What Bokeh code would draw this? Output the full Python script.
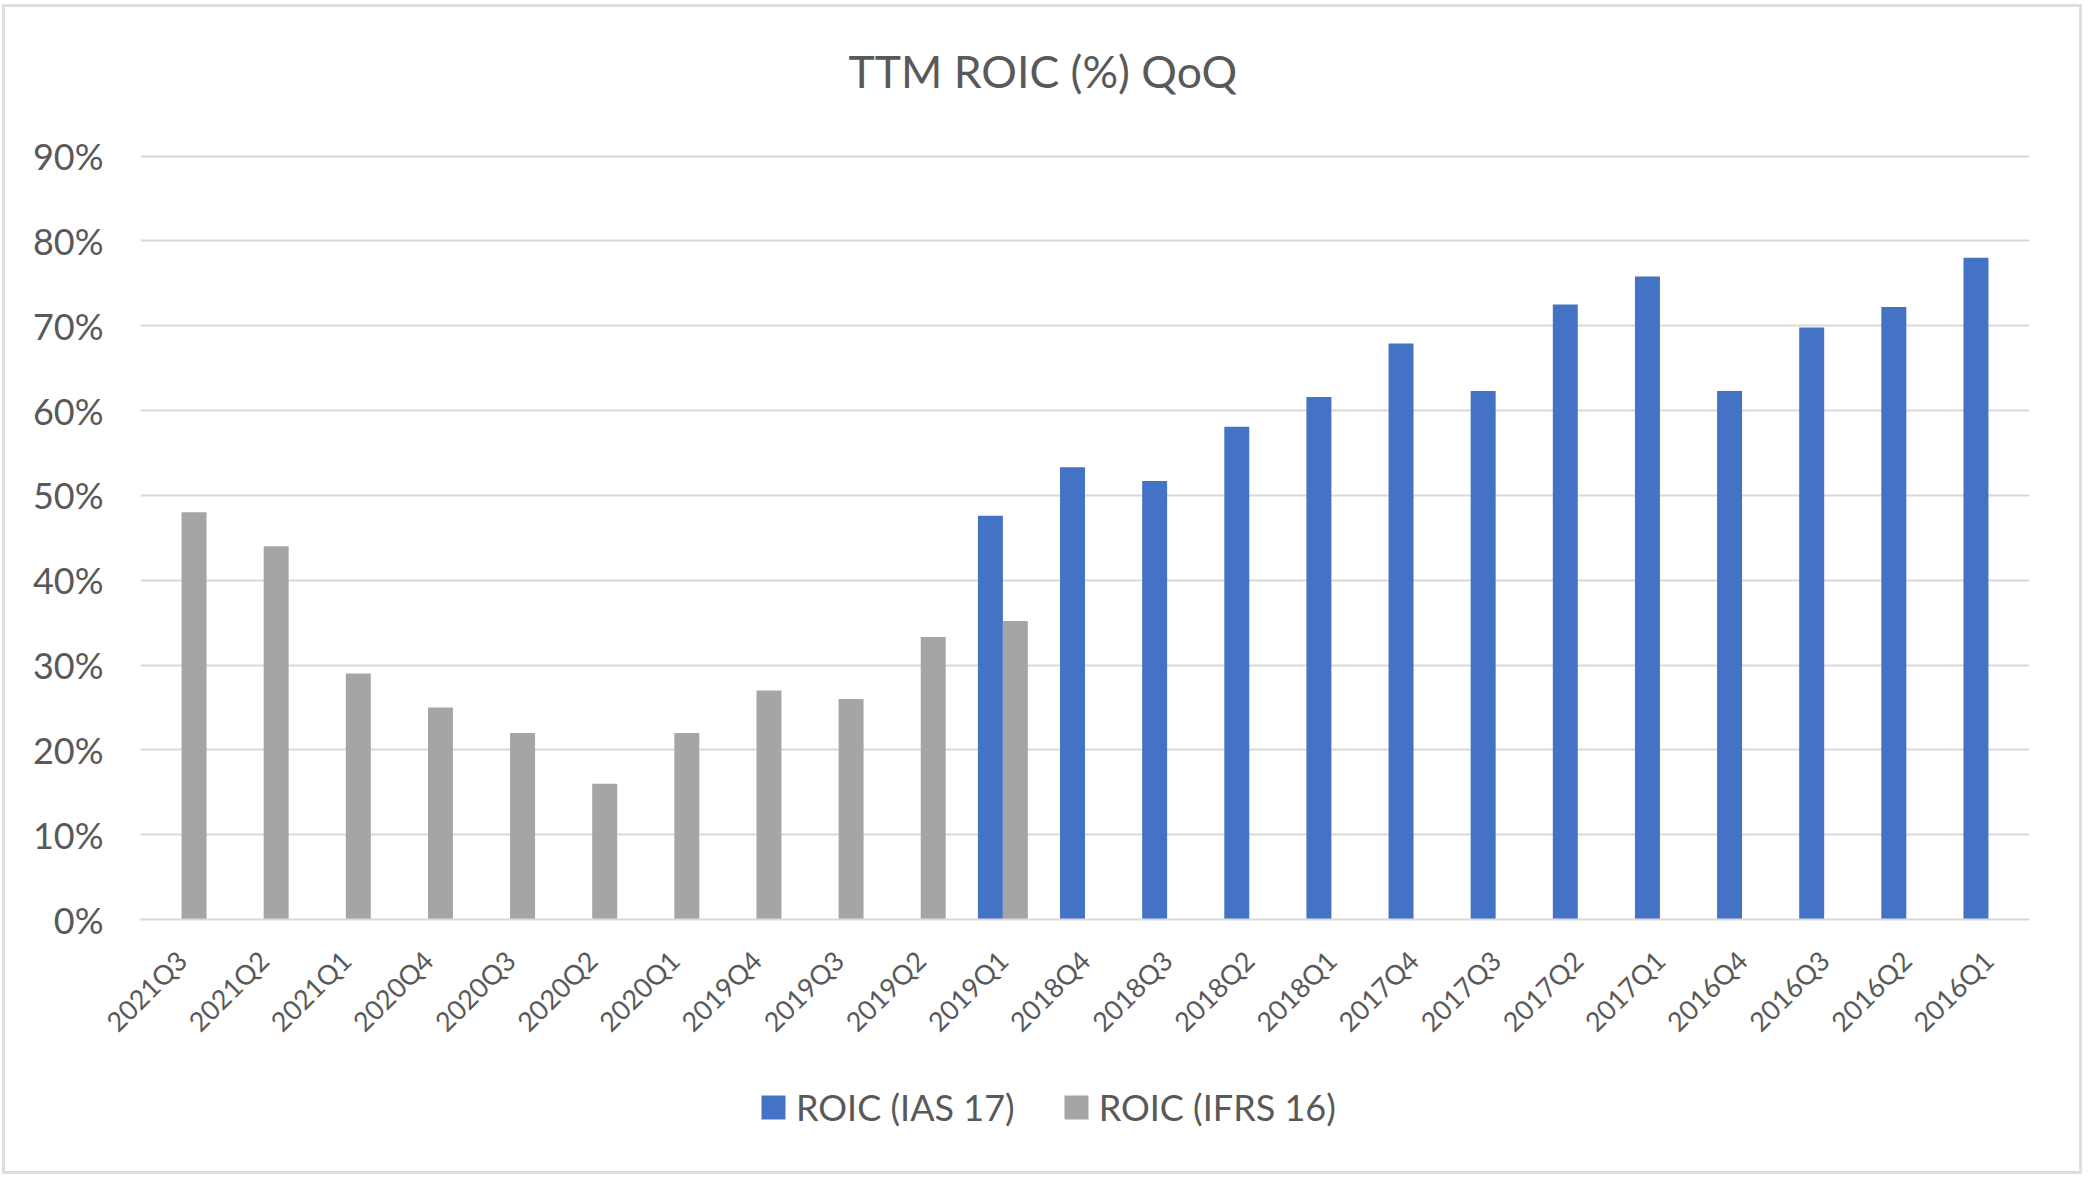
import math

from bokeh.embed import file_html
from bokeh.layouts import column
from bokeh.models import (ColumnDataSource, FactorRange, FixedTicker, Legend,
                          LegendItem, PrintfTickFormatter, Range1d)
from bokeh.plotting import figure
from bokeh.resources import INLINE
from bokeh.transform import dodge

# Quarters, newest first
quarters = ["2021Q3", "2021Q2", "2021Q1", "2020Q4", "2020Q3", "2020Q2",
            "2020Q1", "2019Q4", "2019Q3", "2019Q2", "2019Q1", "2018Q4",
            "2018Q3", "2018Q2", "2018Q1", "2017Q4", "2017Q3", "2017Q2",
            "2017Q1", "2016Q4", "2016Q3", "2016Q2", "2016Q1"]

# ROIC under IAS 17 (pre-IFRS 16 accounting), 2019Q1 back to 2016Q1
ias17_quarters = ["2019Q1", "2018Q4", "2018Q3", "2018Q2", "2018Q1", "2017Q4",
                  "2017Q3", "2017Q2", "2017Q1", "2016Q4", "2016Q3", "2016Q2",
                  "2016Q1"]
ias17_roic = [47.6, 53.3, 51.7, 58.1, 61.6, 67.9, 62.3, 72.5, 75.8, 62.3,
              69.8, 72.2, 78.0]

# ROIC under IFRS 16, 2021Q3 back to 2019Q1
ifrs16_quarters = ["2021Q3", "2021Q2", "2021Q1", "2020Q4", "2020Q3", "2020Q2",
                   "2020Q1", "2019Q4", "2019Q3", "2019Q2", "2019Q1"]
ifrs16_roic = [48.0, 44.0, 29.0, 25.0, 22.0, 16.0, 22.0, 27.0, 26.0, 33.3, 35.2]

y_ticks = [0, 10, 20, 30, 40, 50, 60, 70, 80, 90]

series_names = ["ROIC (IAS 17)", "ROIC (IFRS 16)"]
chart_title = "TTM ROIC (%) QoQ"

BLUE = "#4472C4"
GREY = "#A5A5A5"
TEXT = "#595959"
GRID = "#D9D9D9"
FONT = "Lato"
WIDTH = 2074

src_ias = ColumnDataSource(dict(q=ias17_quarters, v=ias17_roic))
src_ifrs = ColumnDataSource(dict(q=ifrs16_quarters, v=ifrs16_roic))
x_range = FactorRange(*quarters, range_padding=0)
bar_w = 0.304

# ---- title strip ----
tf = figure(width=WIDTH, height=124, x_axis_type=None, y_axis_type=None,
            output_backend="svg", toolbar_location=None, min_border=0,
            title=chart_title)
tf.outline_line_color = None
tf.border_fill_color = "white"
tf.title.text_font = FONT
tf.title.text_font_size = "44.5px"
tf.title.text_font_style = "normal"
tf.title.text_color = TEXT
tf.title.align = "left"
tf.title.offset = 708
tf.title.standoff = 70

# ---- main chart ----
p = figure(
    frame_width=1889, frame_height=766,
    x_range=x_range, y_range=Range1d(0, 90.3),
    output_backend="svg", toolbar_location=None,
    min_border_left=135, min_border_right=50,
    min_border_top=22, min_border_bottom=134,
)
p.outline_line_color = None
p.background_fill_color = "white"
p.border_fill_color = "white"

p.vbar(x=dodge("q", -bar_w / 2, range=x_range), top="v", width=bar_w,
       source=src_ias, fill_color=BLUE, line_color=None)
p.vbar(x=dodge("q", bar_w / 2, range=x_range), top="v", width=bar_w,
       source=src_ifrs, fill_color=GREY, line_color=None)

p.xgrid.grid_line_color = None
p.ygrid.grid_line_color = GRID
p.ygrid.grid_line_width = 2
p.ygrid.ticker = FixedTicker(ticks=y_ticks)

p.yaxis.ticker = FixedTicker(ticks=y_ticks)
p.yaxis.formatter = PrintfTickFormatter(format="%d%%")
p.yaxis.axis_line_color = None
p.yaxis.major_tick_line_color = None
p.yaxis.minor_tick_line_color = None
p.yaxis.major_label_standoff = 31
p.yaxis.major_label_text_font = FONT
p.yaxis.major_label_text_font_size = "36px"
p.yaxis.major_label_text_color = TEXT

p.xaxis.axis_line_color = GRID
p.xaxis.axis_line_width = 2
p.xaxis.major_tick_line_color = None
p.xaxis.minor_tick_line_color = None
p.xaxis.major_label_orientation = math.pi / 4
p.xaxis.major_label_standoff = 30
p.xaxis.major_label_text_font = FONT
p.xaxis.major_label_text_font_size = "27px"
p.xaxis.major_label_text_color = TEXT

# ---- legend strip ----
# Hidden copies of the two bar series supply the legend swatches.
lf = figure(width=WIDTH, height=118, x_range=x_range, y_range=Range1d(0, 100),
            x_axis_type=None, y_axis_type=None,
            output_backend="svg", toolbar_location=None, min_border=0)
lf.grid.visible = False
lf.outline_line_color = None
lf.border_fill_color = "white"
lf.background_fill_color = "white"

k_ias = lf.vbar(x=dodge("q", -bar_w / 2, range=x_range), top="v", width=bar_w,
                source=src_ias, fill_color=BLUE, line_color=None, visible=False)
k_ifrs = lf.vbar(x=dodge("q", bar_w / 2, range=x_range), top="v", width=bar_w,
                 source=src_ifrs, fill_color=GREY, line_color=None, visible=False)

legend = Legend(
    items=[LegendItem(label=series_names[0], renderers=[k_ias]),
           LegendItem(label=series_names[1], renderers=[k_ifrs])],
    orientation="horizontal", location=(618, 42),
    glyph_width=30, glyph_height=30, label_standoff=8, spacing=46,
    label_text_font=FONT, label_text_font_size="36px",
    label_text_color=TEXT, border_line_color=None,
    background_fill_alpha=0, margin=0, padding=0,
)
lf.add_layout(legend, "center")

page = column(tf, p, lf, spacing=0,
              styles={"margin": "4px 0 0 2px", "border": "3px solid #DEDEDE"})

open("out.html", "w").write(file_html(page, INLINE))
